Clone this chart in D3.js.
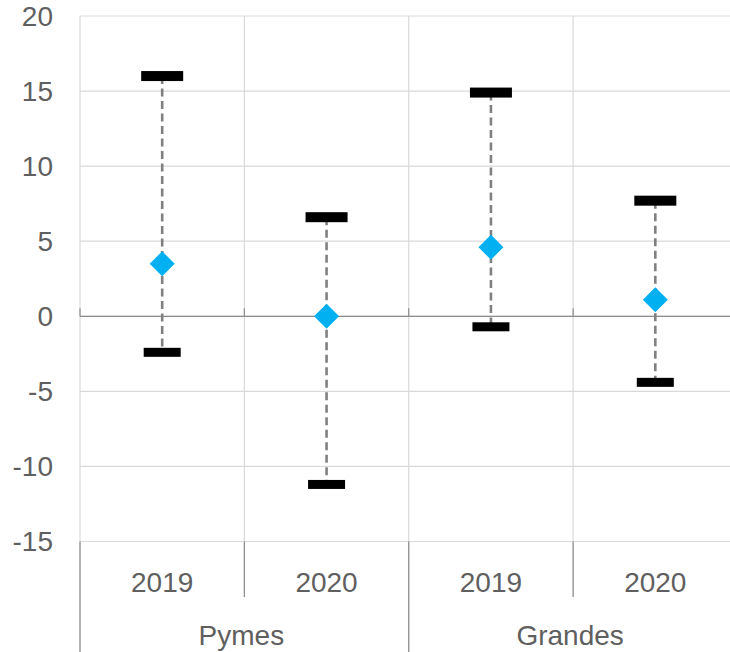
<!DOCTYPE html>
<html>
<head>
<meta charset="utf-8">
<script src="https://cdn.jsdelivr.net/npm/d3@7"></script>
<style>
  html, body { margin: 0; padding: 0; background: #fff; }
  svg { display: block; }
  text { font-family: "Liberation Sans", Arial, sans-serif; fill: #5f5f5f; }
</style>
</head>
<body>
<svg id="chart" width="730" height="652"></svg>
<script>
// Groups and sub-categories along the x axis
const groups = ["Pymes", "Grandes"];
const years = ["2019", "2020"];

// One entry per (group, year) pair, in drawing order
const highs = [16.0, 6.6, 14.9, 7.7];
const means = [3.5, 0.0, 4.6, 1.1];
const lows  = [-2.4, -11.2, -0.7, -4.4];

const yTicks = [-15, -10, -5, 0, 5, 10, 15, 20];

const W = 730, H = 652;
const plotLeft = 80, plotTop = 16, plotW = 657.5, plotBottom = 541.5;

const svg = d3.select("#chart");

const cats = [];
groups.forEach(g => years.forEach(yr => cats.push({ group: g, year: yr })));
const rows = cats.map((c, i) => ({ ...c, key: c.group + "|" + c.year, high: highs[i], mean: means[i], low: lows[i] }));

const x = d3.scaleBand().domain(rows.map(d => d.key)).range([plotLeft, plotLeft + plotW]).padding(0);
const xGroup = d3.scaleBand().domain(groups).range([plotLeft, plotLeft + plotW]).padding(0);
const y = d3.scaleLinear().domain([-15, 20]).range([plotBottom, plotTop]);

// Horizontal grid lines
svg.append("g").selectAll("line").data(yTicks).join("line")
  .attr("x1", plotLeft).attr("x2", plotLeft + plotW)
  .attr("y1", d => y(d)).attr("y2", d => y(d))
  .attr("stroke", "#d9d9d9").attr("stroke-width", 1.2);

// Vertical grid lines at category boundaries
const bounds = rows.map(d => x(d.key)).concat([plotLeft + plotW]);
svg.append("g").selectAll("line").data(bounds).join("line")
  .attr("x1", d => d).attr("x2", d => d)
  .attr("y1", plotTop).attr("y2", plotBottom)
  .attr("stroke", "#d9d9d9").attr("stroke-width", 1.2);

// Zero line with tick marks
svg.append("line")
  .attr("x1", plotLeft).attr("x2", plotLeft + plotW)
  .attr("y1", y(0)).attr("y2", y(0))
  .attr("stroke", "#8c8c8c").attr("stroke-width", 1.3);
svg.append("g").selectAll("line").data(bounds).join("line")
  .attr("x1", d => d).attr("x2", d => d)
  .attr("y1", y(0) - 8).attr("y2", y(0))
  .attr("stroke", "#8c8c8c").attr("stroke-width", 1.2);

// Y axis labels
svg.append("g").selectAll("text").data(yTicks).join("text")
  .attr("x", 53).attr("y", d => y(d))
  .attr("text-anchor", "end").attr("dominant-baseline", "central")
  .style("font-size", "28px")
  .text(d => d);

// Category axis: year labels and separators
const sep1 = 597;
svg.append("g").selectAll("line").data(bounds.slice(0, 4)).join("line")
  .attr("x1", d => d).attr("x2", d => d)
  .attr("y1", plotBottom).attr("y2", (d, i) => i % 2 === 0 ? H : sep1)
  .attr("stroke", "#8c8c8c").attr("stroke-width", 1.3);

svg.append("g").selectAll("text").data(rows).join("text")
  .attr("x", d => x(d.key) + x.bandwidth() / 2)
  .attr("y", 591.5)
  .attr("text-anchor", "middle")
  .style("font-size", "28px")
  .text(d => d.year);

svg.append("g").selectAll("text").data(groups).join("text")
  .attr("x", d => xGroup(d) + xGroup.bandwidth() / 2 - 3)
  .attr("y", 645)
  .attr("text-anchor", "middle")
  .style("font-size", "28px")
  .text(d => d);

// Range lines between high and low
const cx = d => x(d.key) + x.bandwidth() / 2;
svg.append("g").selectAll("line").data(rows).join("line")
  .attr("x1", cx).attr("x2", cx)
  .attr("y1", d => y(d.high)).attr("y2", d => y(d.low))
  .attr("stroke", "#808080").attr("stroke-width", 2.6)
  .attr("stroke-dasharray", "8,4.5");

// High and low markers
svg.append("g").selectAll("rect").data(rows).join("rect")
  .attr("x", d => cx(d) - 21).attr("y", d => y(d.high) - 5)
  .attr("width", 42).attr("height", 10)
  .attr("fill", "#000");
svg.append("g").selectAll("rect").data(rows).join("rect")
  .attr("x", d => cx(d) - 18.5).attr("y", d => y(d.low) - 4.5)
  .attr("width", 37).attr("height", 9)
  .attr("fill", "#000");

// Mean markers (diamonds)
const diamond = d3.symbol().type(d3.symbolSquare).size(312.5);
svg.append("g").selectAll("path").data(rows).join("path")
  .attr("d", diamond)
  .attr("transform", d => `translate(${cx(d)},${y(d.mean)}) rotate(45)`)
  .attr("fill", "#00b0f0");
</script>
</body>
</html>
